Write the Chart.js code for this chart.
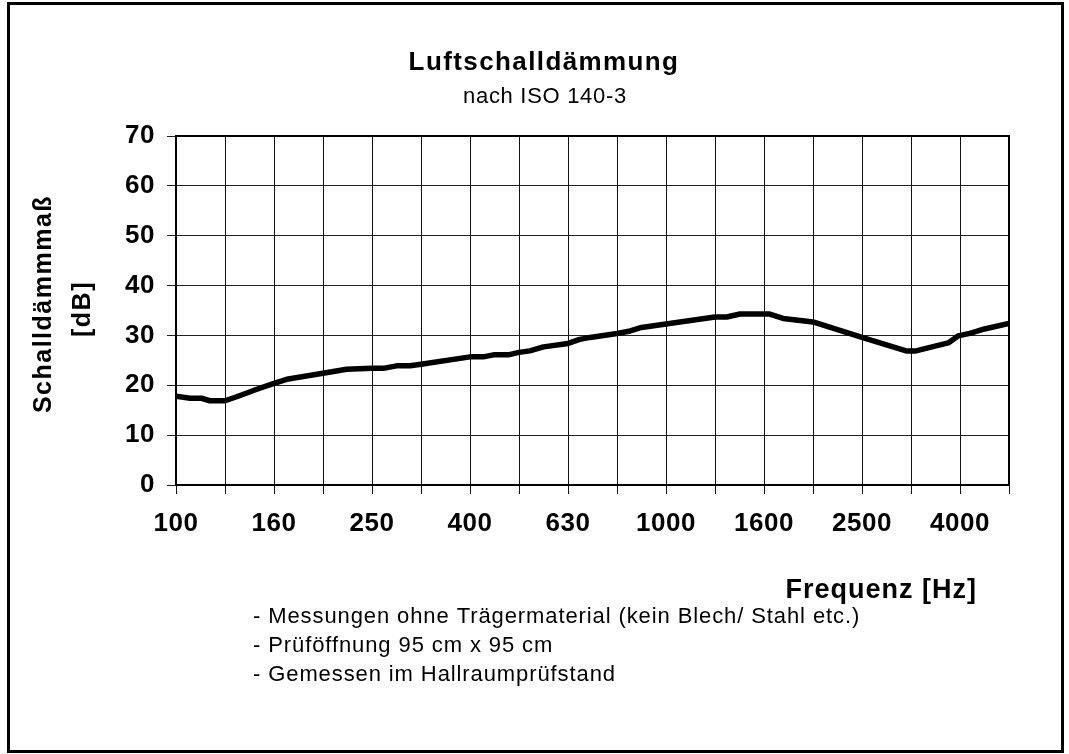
<!DOCTYPE html>
<html>
<head>
<meta charset="utf-8">
<script src="https://cdn.jsdelivr.net/npm/chart.js@4"></script>
<style>
  html, body { margin: 0; padding: 0; background: #fff; }
  #wrap { width: 1069px; height: 754px; position: relative; }
</style>
</head>
<body>
<div id="wrap"><canvas id="chart"></canvas></div>
<script>
// third-octave bands, one grid line each
const bandLabels = ['100', '125', '160', '200', '250', '315', '400', '500', '630', '800',
  '1000', '1250', '1600', '2000', '2500', '3150', '4000', '5000'];

// curve: position in band steps (0 = 100 Hz) and dB value
const bandPos = [0, 0.29, 0.52, 0.69, 1.0, 1.24, 1.65, 2.0, 2.26, 3.0, 3.48, 4.0, 4.23, 4.5,
  4.78, 5.0, 6.0, 6.27, 6.48, 6.78, 7.0, 7.22, 7.5, 8.0, 8.24, 8.45, 9.0, 9.27, 9.5, 10.0,
  11.0, 11.24, 11.51, 12.1, 12.39, 13.0, 14.0, 14.9, 15.1, 15.76, 15.96, 16.2, 16.5, 17.0];
const dbValues = [17.8, 17.4, 17.4, 16.9, 16.9, 17.7, 19.2, 20.4, 21.2, 22.4, 23.2, 23.4, 23.4, 23.9,
  23.9, 24.2, 25.7, 25.7, 26.1, 26.1, 26.6, 26.9, 27.7, 28.4, 29.2, 29.6, 30.4, 30.9, 31.6, 32.3,
  33.7, 33.7, 34.3, 34.3, 33.4, 32.7, 29.6, 26.9, 26.9, 28.5, 29.9, 30.4, 31.3, 32.4];

const yTicks = [0, 10, 20, 30, 40, 50, 60, 70];

const notes = [
  '- Messungen ohne Trägermaterial (kein Blech/ Stahl etc.)',
  '- Prüföffnung 95 cm x 95 cm',
  '- Gemessen im Hallraumprüfstand'
];

const FONT = 'Arial, "Liberation Sans", sans-serif';

const decor = {
  id: 'decor',
  beforeDraw(chart) {
    chart.ctx.letterSpacing = '0.5px';
  },
  afterDraw(chart) {
    const ctx = chart.ctx;
    const a = chart.chartArea;
    ctx.save();

    // plot frame
    ctx.strokeStyle = '#000';
    ctx.lineWidth = 2;
    ctx.strokeRect(a.left, a.top, a.right - a.left, a.bottom - a.top);

    // outer frame
    ctx.lineWidth = 3;
    ctx.strokeRect(8.5, 3.5, 1054, 748);

    ctx.fillStyle = '#000';
    ctx.textBaseline = 'alphabetic';

    // title
    ctx.textAlign = 'center';
    ctx.font = 'bold 26px ' + FONT;
    ctx.letterSpacing = '1.4px';
    ctx.fillText('Luftschalldämmung', 544, 70);
    ctx.font = '22px ' + FONT;
    ctx.letterSpacing = '0.7px';
    ctx.fillText('nach ISO 140-3', 545, 103);

    // x axis title
    ctx.textAlign = 'right';
    ctx.font = 'bold 27px ' + FONT;
    ctx.letterSpacing = '1px';
    ctx.fillText('Frequenz [Hz]', 977, 598);

    // notes
    ctx.textAlign = 'left';
    ctx.font = '22px ' + FONT;
    ctx.letterSpacing = '0.9px';
    notes.forEach((t, i) => ctx.fillText(t, 253, 623 + i * 29));

    // y axis title, two lines rotated
    ctx.save();
    ctx.rotate(-Math.PI / 2);
    ctx.textAlign = 'center';
    ctx.textBaseline = 'middle';
    ctx.font = 'bold 25px ' + FONT;
    ctx.letterSpacing = '1.5px';
    ctx.fillText('Schalldämmmaß', -304, 44);
    ctx.fillText('[dB]', -309, 83);
    ctx.restore();

    ctx.restore();
  }
};

new Chart(document.getElementById('chart').getContext('2d'), {
  type: 'line',
  data: {
    datasets: [{
      data: bandPos.map((p, i) => ({ x: p, y: dbValues[i] })),
      borderColor: '#000',
      borderWidth: 5.5,
      pointRadius: 0,
      tension: 0,
      borderJoinStyle: 'round',
      borderCapStyle: 'round'
    }]
  },
  options: {
    responsive: true,
    maintainAspectRatio: false,
    animation: false,
    layout: { padding: { left: 0, top: 136, right: 60, bottom: 209 } },
    plugins: {
      legend: { display: false },
      tooltip: { enabled: false }
    },
    scales: {
      x: {
        type: 'linear',
        min: 0,
        max: bandLabels.length - 1,
        afterFit: (s) => { s.height = 60; },
        afterBuildTicks: (s) => { s.ticks = bandLabels.map((_, i) => ({ value: i })); },
        ticks: {
          autoSkip: false,
          maxRotation: 0,
          padding: 14,
          color: '#000',
          font: { family: FONT, size: 26, weight: 'bold' },
          callback: (v) => (v % 2 === 0 ? bandLabels[v] : '')
        },
        grid: { color: '#111', lineWidth: 1, tickLength: 9 },
        border: { color: '#000', width: 2 }
      },
      y: {
        min: 0,
        max: 70,
        afterFit: (s) => { s.width = 176; },
        afterBuildTicks: (s) => { s.ticks = yTicks.map(v => ({ value: v })); },
        ticks: {
          padding: 12,
          color: '#000',
          font: { family: FONT, size: 26, weight: 'bold' }
        },
        grid: { color: '#222', lineWidth: 1, tickLength: 9 },
        border: { color: '#000', width: 2 }
      }
    }
  },
  plugins: [decor]
});
</script>
</body>
</html>
